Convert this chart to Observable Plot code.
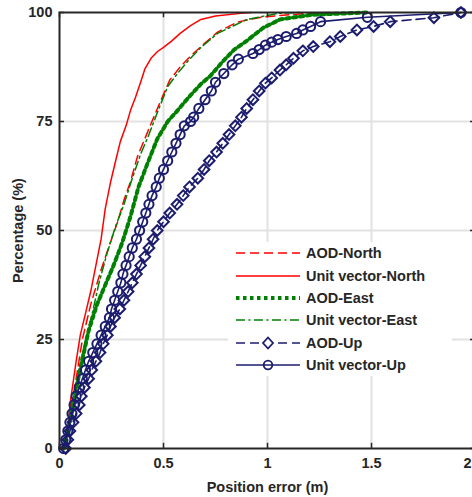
<!DOCTYPE html>
<html>
<head>
<meta charset="utf-8">
<script src="https://cdn.jsdelivr.net/npm/d3@7"></script>
<script src="https://cdn.jsdelivr.net/npm/@observablehq/plot@0.6"></script>
<style>
  html, body { margin: 0; padding: 0; background: #fff; overflow: hidden; }
  #wrap { position: relative; width: 472px; height: 497px; overflow: hidden; }
  #chart svg { max-width: none !important; }
  #legend { position: absolute; left: 228px; top: 242px; width: 224px; background: #fff;
            font-family: "Liberation Sans", Arial, sans-serif; font-weight: bold; font-size: 14.5px; color: #262626; }
  #legend .row { height: 22.4px; display: flex; align-items: center; padding-left: 8px; }
  #legend svg { flex: none; margin-right: 6px; }
</style>
</head>
<body>
<div id="wrap"><div id="chart"></div><div id="legend"></div></div>
<script>
// ---- tick values ----
const xTicks = [0, 0.5, 1, 1.5, 2];
const yTicks = [0, 25, 50, 75, 100];
const xTickLabels = ["0", "0.5", "1", "1.5", "2"];
const yTickLabels = ["0", "25", "50", "75", "100"];

// ---- series names ----
const seriesNames = ["AOD-North", "Unit vector-North", "AOD-East", "Unit vector-East", "AOD-Up", "Unit vector-Up"];

// ---- AOD-North (position error m, percentage) ----
const aodNorthX = [0.02,0.05,0.08,0.11,0.15,0.20,0.25,0.28,0.31,0.34,0.375,0.41,0.44,0.48,0.53,0.58,0.63,0.68,0.76,0.855,0.98,1.11,1.20,1.30];
const aodNorthY = [0,8,16,25,33,41,48,52,57,61,67,71,74.5,79,84.5,87.5,90,92.2,95.5,97.8,99,99.5,99.8,100];

// ---- Unit vector-North ----
const uvNorthX = [0.02,0.04,0.053,0.08,0.10,0.125,0.15,0.175,0.20,0.22,0.245,0.27,0.293,0.32,0.341,0.365,0.39,0.41,0.44,0.47,0.50,0.54,0.58,0.63,0.68,0.75,0.87,0.92];
const uvNorthY = [0,5,11,20,26,31,36,42,48,55,61,66,70.5,74,77.5,80.5,84,87,89.5,91,92,93.5,95.2,97,98.4,99.2,99.8,100];

// ---- AOD-East ----
const aodEastX = [0.02,0.05,0.09,0.14,0.18,0.22,0.26,0.30,0.34,0.38,0.42,0.47,0.52,0.567,0.62,0.68,0.726,0.78,0.84,0.90,0.98,1.06,1.22,1.48];
const aodEastY = [0,6,16,27,33,37.5,42,47,53,60,65,71,75,77.5,80.5,83.6,85.5,88.5,91.5,93.5,96.5,98.4,99.5,100];

// ---- Unit vector-East ----
const uvEastX = [0.02,0.05,0.08,0.12,0.16,0.19,0.23,0.27,0.31,0.35,0.39,0.43,0.47,0.52,0.567,0.62,0.68,0.76,0.90,1.05,1.15];
const uvEastY = [0,7,15,24,31.5,38,45,51,56,62,67.5,72,77,83,86,89,92,95.2,98.4,99.8,100];

// ---- AOD-Up ----
const aodUpX = [0.03,0.04,0.05,0.065,0.08,0.095,0.105,0.12,0.14,0.155,0.175,0.195,0.21,0.23,0.245,0.265,0.29,0.31,0.33,0.35,0.37,0.39,0.41,0.43,0.45,0.47,0.50,0.53,0.565,0.595,0.625,0.665,0.695,0.72,0.755,0.785,0.815,0.845,0.875,0.90,0.93,0.96,0.99,1.02,1.06,1.09,1.125,1.17,1.22,1.30,1.35,1.43,1.51,1.59,1.80,1.93];
const aodUpY = [0,2,4,6,8,10,12,14,16,18,20,22,24,26,28,30,32,34,36,38,40,42,44,46,48,50,52,54,56,58,60,62,64,66,68,70,72,74,76,78,80,82,83.8,85,86.8,88,89.5,91.2,92.2,93.3,94.5,96,96.8,97.9,98.8,100];

// ---- Unit vector-Up ----
const uvUpX = [0.02,0.03,0.04,0.05,0.06,0.07,0.08,0.095,0.11,0.125,0.14,0.16,0.18,0.20,0.22,0.24,0.25,0.265,0.28,0.295,0.305,0.32,0.335,0.35,0.37,0.385,0.40,0.415,0.43,0.445,0.465,0.48,0.50,0.52,0.54,0.56,0.58,0.60,0.63,0.645,0.67,0.70,0.73,0.75,0.79,0.83,0.86,0.93,0.96,0.99,1.02,1.05,1.09,1.14,1.17,1.207,1.255,1.48,1.93];
const uvUpY = [0,2,4,6,8,10,12,14,16,18,20,22,24,26,28,30,32,34,36,38,40,42,44,46,48,50,52,54,56,58,60,62,64,66,68,70,72,74,75,76,78,80,82,84,86,88,89.3,90.6,91.5,92.5,93.2,93.8,94.5,95.2,96,96.8,97.9,98.9,100];

// ---- styles ----
const RED = "#ff0000", GREEN = "#008000", NAVY = "#1c1c6e", INK = "#262626", GRID = "#e2e2e2";

const toRows = (xs, ys) => xs.map((x, i) => ({x, y: ys[i]}));
const aodNorth = toRows(aodNorthX, aodNorthY);
const uvNorth = toRows(uvNorthX, uvNorthY);
const aodEast = toRows(aodEastX, aodEastY);
const uvEast = toRows(uvEastX, uvEastY);
const aodUp = toRows(aodUpX, aodUpY);
const uvUp = toRows(uvUpX, uvUpY);

const tickLenX = 0.024, tickLenY = 1.2;
const lastX = xTicks.length - 1;

const chart = Plot.plot({
  width: 480,
  height: 497,
  marginLeft: 59,
  marginRight: 5,
  marginTop: 12,
  marginBottom: 49,
  style: {fontFamily: "Liberation Sans, Arial, sans-serif", fontSize: "14.5px", fontWeight: "bold", color: INK, background: "#fff"},
  x: {domain: [0, 2]},
  y: {domain: [0, 100]},
  marks: [
    Plot.ruleX([0.5, 1, 1.5], {stroke: GRID, strokeWidth: 2}),
    Plot.ruleY([25, 50, 75], {stroke: GRID, strokeWidth: 2}),
    Plot.line(aodNorth, {x: "x", y: "y", stroke: RED, strokeWidth: 1.5, strokeDasharray: "9,5"}),
    Plot.line(uvNorth, {x: "x", y: "y", stroke: RED, strokeWidth: 1.5}),
    Plot.line(aodEast, {x: "x", y: "y", stroke: GREEN, strokeWidth: 4, strokeDasharray: "3.5,3.5"}),
    Plot.line(uvEast, {x: "x", y: "y", stroke: GREEN, strokeWidth: 1.5, strokeDasharray: "9,3.5,2,3.5"}),
    Plot.line(aodUp, {x: "x", y: "y", stroke: NAVY, strokeWidth: 1.6, strokeDasharray: "9,5"}),
    Plot.dot(aodUp, {x: "x", y: "y", symbol: "diamond2", r: 4.8, stroke: NAVY, strokeWidth: 2, fill: "none"}),
    Plot.line(uvUp, {x: "x", y: "y", stroke: NAVY, strokeWidth: 1.6}),
    Plot.dot(uvUp, {x: "x", y: "y", symbol: "circle", r: 4.6, stroke: NAVY, strokeWidth: 2, fill: "none"}),
    // inward tick marks (bottom/top, left/right)
    Plot.ruleX(xTicks, {x: d => d, y1: 0, y2: tickLenY, stroke: INK, strokeWidth: 1.5}),
    Plot.ruleX(xTicks, {x: d => d, y1: 100 - tickLenY, y2: 100, stroke: INK, strokeWidth: 1.5}),
    Plot.ruleY(yTicks, {y: d => d, x1: 0, x2: tickLenX, stroke: INK, strokeWidth: 1.5}),
    Plot.ruleY(yTicks, {y: d => d, x1: 2 - tickLenX, x2: 2, stroke: INK, strokeWidth: 1.5}),
    Plot.axisX({ticks: xTicks.slice(0, lastX), tickSize: 0, tickPadding: 9.5, tickFormat: (d, i) => xTickLabels[i],
      label: "Position error (m)", labelAnchor: "center", labelArrow: "none", labelOffset: 43, fill: INK}),
    Plot.axisX({ticks: [xTicks[lastX]], tickSize: 0, tickPadding: 9.5, tickFormat: () => xTickLabels[lastX],
      textAnchor: "end", dx: -4, label: null, fill: INK}),
    Plot.axisY({ticks: yTicks, tickSize: 0, tickPadding: 7, tickFormat: (d, i) => yTickLabels[i],
      label: "Percentage (%)", labelAnchor: "center", labelArrow: "none", labelOffset: 47, fill: INK}),
    Plot.frame({stroke: INK, strokeWidth: 2})
  ]
});
chart.style.maxWidth = "none";
document.getElementById("chart").appendChild(chart);

// ---- legend ----
const legendStyles = [
  {stroke: RED, w: 1.5, dash: "9,5", sym: null},
  {stroke: RED, w: 1.5, dash: null, sym: null},
  {stroke: GREEN, w: 4, dash: "3.5,3.5", sym: null},
  {stroke: GREEN, w: 1.5, dash: "9,3.5,2,3.5", sym: null},
  {stroke: NAVY, w: 1.6, dash: "9,5", sym: "diamond"},
  {stroke: NAVY, w: 1.6, dash: null, sym: "circle"}
];
const legend = document.getElementById("legend");
seriesNames.forEach((name, i) => {
  const s = legendStyles[i];
  const row = document.createElement("div");
  row.className = "row";
  let symbol = "";
  if (s.sym === "circle") symbol = `<circle cx="32" cy="8" r="4.3" fill="none" stroke="${s.stroke}" stroke-width="1.8"/>`;
  if (s.sym === "diamond") symbol = `<path d="M32,2.5 L37,8 L32,13.5 L27,8 Z" fill="#fff" stroke="${s.stroke}" stroke-width="1.8"/>`;
  row.innerHTML = `<svg width="64" height="16"><line x1="0" y1="8" x2="64" y2="8" stroke="${s.stroke}" stroke-width="${s.w}" ${s.dash ? `stroke-dasharray="${s.dash}"` : ""}/>${symbol}</svg><span>${name}</span>`;
  legend.appendChild(row);
});
</script>
</body>
</html>
